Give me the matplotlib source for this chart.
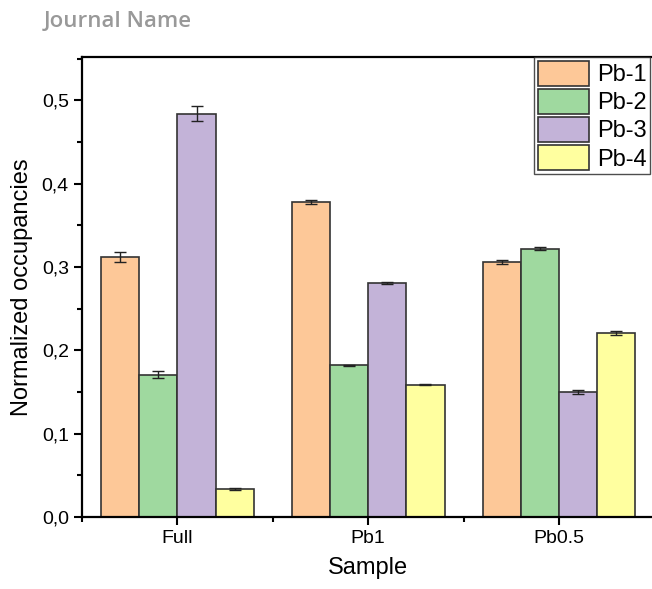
import numpy as np
import matplotlib.pyplot as plt
from matplotlib.ticker import MultipleLocator, FixedLocator

plt.rcParams['font.family'] = ['Liberation Sans', 'DejaVu Sans']

samples = ['Full', 'Pb1', 'Pb0.5']
series = ['Pb-1', 'Pb-2', 'Pb-3', 'Pb-4']
pb1 = [0.312, 0.378, 0.306]
pb2 = [0.171, 0.182, 0.322]
pb3 = [0.484, 0.281, 0.150]
pb4 = [0.034, 0.159, 0.221]
pb1_err = [0.006, 0.002, 0.002]
pb2_err = [0.004, 0.001, 0.002]
pb3_err = [0.009, 0.001, 0.002]
pb4_err = [0.001, 0.001, 0.002]

colors = ['#FDC898', '#9FD99F', '#C3B3D8', '#FFFF9F']

fig = plt.figure(figsize=(6.52, 5.89), dpi=100)
ax = fig.add_axes([0.1258, 0.1222, 0.878, 0.781])

x = np.arange(len(samples))
w = 0.2
vals = [pb1, pb2, pb3, pb4]
errs = [pb1_err, pb2_err, pb3_err, pb4_err]
for i in range(4):
    ax.bar(x + (i - 1.5) * w, vals[i], w, yerr=errs[i], color=colors[i],
           edgecolor='#333333', linewidth=1.2, label=series[i],
           error_kw=dict(ecolor='#222222', elinewidth=1, capsize=4, capthick=1))

ax.set_xlim(-0.5, 2.5)
ax.set_ylim(0, 0.552)
ax.set_xticks(x)
ax.set_xticklabels(samples)
ax.xaxis.set_minor_locator(FixedLocator([-0.5, 0.5, 1.5, 2.5]))
ax.yaxis.set_major_locator(MultipleLocator(0.1))
ax.yaxis.set_minor_locator(MultipleLocator(0.05))
ax.set_yticklabels([('%.1f' % t).replace('.', ',') for t in ax.get_yticks()])

ax.tick_params(axis='both', which='major', direction='out', length=6, width=1.5, labelsize=14)
ax.tick_params(axis='both', which='minor', direction='out', length=3.5, width=1.5)
ax.tick_params(top=False, right=False)
for s in ['left', 'bottom', 'top']:
    ax.spines[s].set_linewidth(1.6)
ax.spines['right'].set_visible(False)

ax.set_xlabel('Sample', fontsize=17, labelpad=7)
ax.set_ylabel('Normalized occupancies', fontsize=17, labelpad=6)

leg = ax.legend(loc='upper right', bbox_to_anchor=(0.997, 0.9032),
                bbox_transform=fig.transFigure, fontsize=17, frameon=True,
                fancybox=False, edgecolor='#222222', borderpad=0.15,
                handlelength=2.15, handleheight=1.25, handletextpad=0.35,
                labelspacing=0.12, borderaxespad=0)
leg.get_frame().set_linewidth(1.0)

fig.text(0.067, 0.963, 'Journal Name', fontsize=16, fontweight='semibold',
         color='#999999', family=['Open Sans', 'DejaVu Sans'], va='center')

fig.savefig('out.png', dpi=100)
